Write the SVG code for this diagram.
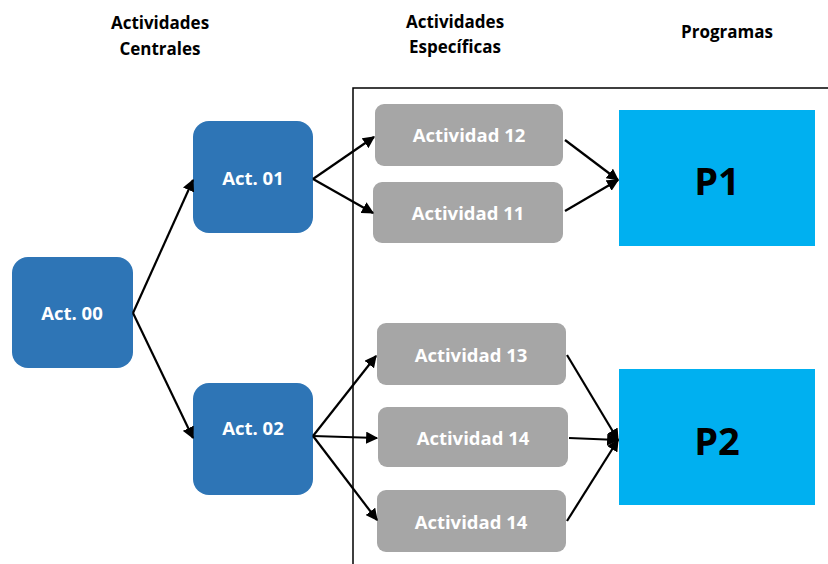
<svg xmlns="http://www.w3.org/2000/svg" width="828" height="564" viewBox="0 0 828 564">
<defs>
<marker id="ah" viewBox="0 0 10 10" refX="9" refY="5" markerWidth="5.5" markerHeight="5.5" orient="auto" markerUnits="strokeWidth"><path d="M0,0 L10,5 L0,10 z" fill="#000"/></marker>
<style>
.hdr{font-family:"Open Sans","Liberation Sans",sans-serif;font-weight:bold;font-size:17px;fill:#000;text-anchor:middle}
.blue{fill:#2e75b6}
.gray{fill:#a6a6a6}
.prog{fill:#00b0f0}
.lbl{font-family:"Open Sans","Liberation Sans",sans-serif;font-weight:bold;font-size:18.5px;fill:#fff;text-anchor:middle;dominant-baseline:central}
.big{font-family:"Open Sans","Liberation Sans",sans-serif;font-weight:bold;font-size:38px;fill:#000;text-anchor:middle;dominant-baseline:central}
.con{stroke:#000;stroke-width:2.2;fill:none;marker-end:url(#ah)}
</style>
</defs>
<rect width="828" height="564" fill="#fff"/>
<g id="headers">
<text class="hdr" x="160" y="29">Actividades</text>
<text class="hdr" x="160" y="55">Centrales</text>
<text class="hdr" x="455" y="28">Actividades</text>
<text class="hdr" x="455" y="53">Específicas</text>
<text class="hdr" x="727" y="38">Programas</text>
</g>
<g id="frame"><path d="M353,564 V88 H828" fill="none" stroke="#000" stroke-width="1.5"/></g>
<g id="act00"><rect class="blue" x="12" y="257" width="121" height="111" rx="16"/><text class="lbl" x="72" y="312">Act. 00</text></g>
<g id="act01"><rect class="blue" x="193" y="121" width="120" height="112" rx="16"/><text class="lbl" x="253" y="177">Act. 01</text></g>
<g id="act02"><rect class="blue" x="193" y="383" width="120" height="112" rx="16"/><text class="lbl" x="253" y="427">Act. 02</text></g>
<g id="a12"><rect class="gray" x="375" y="104" width="188" height="62" rx="9"/><text class="lbl" x="469" y="134">Actividad 12</text></g>
<g id="a11"><rect class="gray" x="373" y="182" width="190" height="61" rx="9"/><text class="lbl" x="468" y="212">Actividad 11</text></g>
<g id="a13"><rect class="gray" x="377" y="323" width="189" height="62" rx="9"/><text class="lbl" x="471" y="354">Actividad 13</text></g>
<g id="a14a"><rect class="gray" x="378" y="407" width="190" height="60" rx="9"/><text class="lbl" x="473" y="437">Actividad 14</text></g>
<g id="a14b"><rect class="gray" x="377" y="490" width="189" height="62" rx="9"/><text class="lbl" x="471" y="521">Actividad 14</text></g>
<g id="p1"><rect class="prog" x="619" y="110" width="196" height="136"/><text class="big" x="717" y="180">P1</text></g>
<g id="p2"><rect class="prog" x="619" y="369" width="196" height="136"/><text class="big" x="717" y="440">P2</text></g>
<g id="connectors">
<line class="con" x1="133" y1="313" x2="193" y2="180"/>
<line class="con" x1="133" y1="313" x2="193" y2="438"/>
<line class="con" x1="313" y1="179" x2="374" y2="137"/>
<line class="con" x1="313" y1="179" x2="373" y2="213"/>
<line class="con" x1="565" y1="140" x2="618" y2="180"/>
<line class="con" x1="565" y1="211" x2="618" y2="180"/>
<line class="con" x1="313" y1="436" x2="376" y2="356"/>
<line class="con" x1="313" y1="436" x2="377" y2="438"/>
<line class="con" x1="313" y1="436" x2="377" y2="520"/>
<line class="con" x1="567" y1="355" x2="618" y2="440"/>
<line class="con" x1="569" y1="438" x2="618" y2="440"/>
<line class="con" x1="567" y1="521" x2="618" y2="440"/>
</g>
</svg>
